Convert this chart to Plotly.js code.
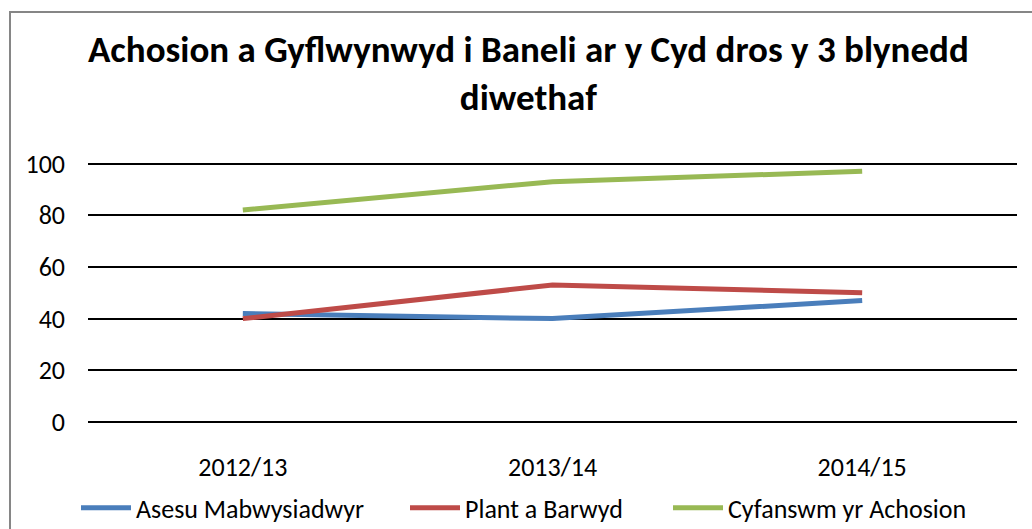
<!DOCTYPE html>
<html>
<head>
<meta charset="utf-8">
<script src="https://cdn.plot.ly/plotly-3.0.1.min.js"></script>
<style>
html,body{margin:0;padding:0;background:#fff;}
#chart{width:1032px;height:529px;}
</style>
</head>
<body>
<div id="chart"></div>
<script>
const categories = ["2012/13", "2013/14", "2014/15"];
const seriesNames = ["Asesu Mabwysiadwyr", "Plant a Barwyd", "Cyfanswm yr Achosion"];
const asesu = [42, 40, 47];
const plant = [40, 53, 50];
const cyfanswm = [82, 93, 97];
const yTicks = [0, 20, 40, 60, 80, 100];
const titleText = "Achosion a Gyflwynwyd i Baneli ar y Cyd dros y 3 blynedd<br>diwethaf";

const FONT = "Carlito, Lato, 'Liberation Sans', sans-serif";
const colors = ["#4a7ebb", "#be4b48", "#98b954"];
const vals = [asesu, plant, cyfanswm];
const legendIds = ["legend", "legend2", "legend3"];
const legendLeft = [76, 405, 668]; // pixel x of each legend box

const traces = vals.map((v, i) => ({
  type: "scatter",
  mode: "lines",
  x: categories,
  y: v,
  name: seriesNames[i],
  legend: legendIds[i],
  line: {color: colors[i], width: 5}
}));

const PL = 88, PW = 929;
function legendCfg(px) {
  return {
    orientation: "h",
    x: (px - PL) / PW, xanchor: "left",
    y: -0.24, yanchor: "top",
    font: {family: FONT, size: 26, color: "#000"},
    itemwidth: 50,
    bgcolor: "rgba(0,0,0,0)"
  };
}

const layout = {
  width: 1032,
  height: 529,
  paper_bgcolor: "#fff",
  plot_bgcolor: "#fff",
  margin: {l: 88, r: 15, t: 162, b: 107, autoexpand: false},
  showlegend: true,
  title: {
    text: titleText,
    font: {family: FONT, size: 37, color: "#000", weight: "bold"},
    x: 0.474, xref: "paper", xanchor: "center",
    y: 1 - 62 / 529, yref: "container", yanchor: "top"
  },
  xaxis: {
    type: "category",
    range: [-0.5, 2.5],
    showgrid: false,
    zeroline: false,
    showline: false,
    ticks: "",
    ticklabelstandoff: 27,
    tickfont: {family: FONT, size: 26, color: "#000"}
  },
  yaxis: {
    range: [0, 100.6],
    tickvals: yTicks,
    ticktext: yTicks.map(String),
    showgrid: true,
    gridcolor: "#000",
    gridwidth: 2,
    zeroline: true,
    zerolinecolor: "#000",
    zerolinewidth: 2,
    showline: false,
    ticks: "",
    ticklabelstandoff: 22,
    tickfont: {family: FONT, size: 26, color: "#000"}
  },
  legend: legendCfg(legendLeft[0]),
  legend2: legendCfg(legendLeft[1]),
  legend3: legendCfg(legendLeft[2]),
  shapes: [{
    type: "rect", xref: "paper", yref: "paper",
    x0: (10 - 88) / 929, x1: (1045 - 88) / 929,
    y0: (422 - 545) / 260, y1: (422 - 12) / 260,
    line: {color: "#868686", width: 2},
    fillcolor: "rgba(0,0,0,0)",
    layer: "below"
  }]
};

Plotly.newPlot("chart", traces, layout, {displayModeBar: false, staticPlot: true});
</script>
</body>
</html>
